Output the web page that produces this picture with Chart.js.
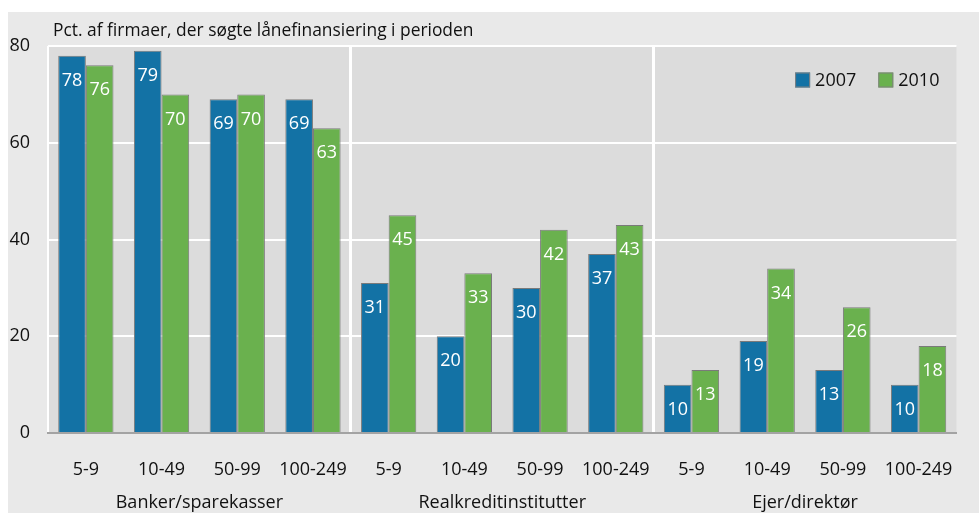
<!DOCTYPE html>
<html>
<head>
<meta charset="utf-8">
<script src="https://cdn.jsdelivr.net/npm/chart.js@4/dist/chart.umd.min.js"></script>
<style>
  html, body { margin: 0; padding: 0; background: #ffffff; }
  #wrap { width: 979px; height: 513px; }
</style>
</head>
<body>
<div id="wrap"><canvas id="c" width="979" height="513"></canvas></div>
<script>
// Firm size classes (employees), repeated for each lender group
const sizeClasses = ['5-9', '10-49', '50-99', '100-249',
                     '5-9', '10-49', '50-99', '100-249',
                     '5-9', '10-49', '50-99', '100-249'];
const lenderGroups = ['Banker/sparekasser', 'Realkreditinstitutter', 'Ejer/direktør'];
const seriesNames = ['2007', '2010'];
const share2007 = [78, 79, 69, 69, 31, 20, 30, 37, 10, 19, 13, 10];
const share2010 = [76, 70, 70, 63, 45, 33, 42, 43, 13, 34, 26, 18];
const yTicks = [0, 20, 40, 60, 80];
const titleText = 'Pct. af firmaer, der søgte lånefinansiering i perioden';

const FONT = '"Open Sans", "DejaVu Sans", sans-serif';
const BLUE = '#1372a5';
const GREEN = '#6ab14e';

// Panel backgrounds: light frame and darker plot area
const backgroundPlugin = {
  id: 'panels',
  beforeDraw(chart) {
    const { ctx, chartArea: a } = chart;
    ctx.save();
    ctx.fillStyle = '#ffffff';
    ctx.fillRect(0, 0, chart.width, chart.height);
    ctx.fillStyle = '#e9e9e9';
    ctx.fillRect(8, 12, chart.width - 8, chart.height - 12);
    ctx.fillStyle = '#dcdcdc';
    ctx.fillRect(a.left, a.top, a.right - a.left, a.bottom - a.top);
    ctx.restore();
  }
};

// Value labels inside the top of each bar
const valueLabelPlugin = {
  id: 'valueLabels',
  afterDatasetsDraw(chart) {
    const { ctx } = chart;
    ctx.save();
    ctx.font = '18px ' + FONT;
    ctx.fillStyle = '#ffffff';
    ctx.textAlign = 'center';
    ctx.textBaseline = 'middle';
    chart.data.datasets.forEach((ds, di) => {
      const meta = chart.getDatasetMeta(di);
      meta.data.forEach((bar, i) => {
        ctx.fillText(String(ds.data[i]), bar.x, bar.y + 25);
      });
    });
    ctx.restore();
  }
};

// Title, group captions and legend
const annotationPlugin = {
  id: 'annotations',
  afterDraw(chart) {
    const { ctx, chartArea: a } = chart;
    const x = chart.scales.x;
    ctx.save();
    ctx.fillStyle = '#111111';
    ctx.textBaseline = 'middle';

    ctx.font = '17.4px ' + FONT;
    ctx.textAlign = 'left';
    ctx.fillText(titleText, 53, 31);

    ctx.font = '18px ' + FONT;
    ctx.textAlign = 'center';
    lenderGroups.forEach((g, gi) => {
      const cx = (x.getPixelForTick(gi * 4 + 1) + x.getPixelForTick(gi * 4 + 2)) / 2;
      ctx.fillText(g, cx, 503);
    });

    // legend, right-aligned inside the plot area
    const box = 15, gap = 5, spacing = 22;
    const items = chart.data.datasets.map(ds => ({
      label: ds.label, color: ds.backgroundColor,
      w: box + gap + ctx.measureText(ds.label).width
    }));
    const total = items.reduce((s, it) => s + it.w, 0) + spacing * (items.length - 1);
    let lx = a.right - 17 - total;
    const ly = 80;
    ctx.textAlign = 'left';
    items.forEach(it => {
      ctx.fillStyle = it.color;
      ctx.fillRect(lx, ly - 7.5, box, box);
      ctx.strokeStyle = '#808080';
      ctx.lineWidth = 1;
      ctx.strokeRect(lx + 0.5, ly - 7, box - 1, box - 1);
      ctx.fillStyle = '#111111';
      ctx.fillText(it.label, lx + box + gap, ly + 1);
      lx += it.w + spacing;
    });
    ctx.restore();
  }
};

new Chart(document.getElementById('c'), {
  type: 'bar',
  data: {
    labels: sizeClasses,
    datasets: [
      { label: seriesNames[0], data: share2007, backgroundColor: BLUE,
        borderColor: '#7a7a7a', borderWidth: 1, borderSkipped: 'bottom' },
      { label: seriesNames[1], data: share2010, backgroundColor: GREEN,
        borderColor: '#7a7a7a', borderWidth: 1, borderSkipped: 'bottom' }
    ]
  },
  options: {
    responsive: false,
    animation: false,
    devicePixelRatio: 1,
    layout: { padding: { left: 0, right: 15, top: 46, bottom: 0 } },
    datasets: { bar: { categoryPercentage: 0.73, barPercentage: 1.0 } },
    plugins: { legend: { display: false }, tooltip: { enabled: false }, title: { display: false } },
    scales: {
      x: {
        afterFit(s) { s.height = 80; },
        grid: {
          offset: true,
          drawTicks: false,
          color: ctx => (ctx.index % 4 === 0 ? '#ffffff' : 'rgba(0,0,0,0)'),
          lineWidth: ctx => (ctx.index === 0 || ctx.index === 12 ? 2 : 3)
        },
        border: { display: true, color: '#a3a3a3', width: 2 },
        ticks: { font: { family: FONT, size: 18 }, color: '#111111', padding: 26, maxRotation: 0, autoSkip: false }
      },
      y: {
        min: yTicks[0],
        max: yTicks[yTicks.length - 1],
        afterFit(s) { s.width = 48; },
        afterBuildTicks(s) { s.ticks = yTicks.map(v => ({ value: v })); },
        grid: {
          drawTicks: false,
          color: ctx => (ctx.tick && ctx.tick.value === 0 ? 'rgba(0,0,0,0)' : '#ffffff'),
          lineWidth: 2
        },
        border: { display: false },
        ticks: { font: { family: FONT, size: 18 }, color: '#111111', padding: 18 }
      }
    }
  },
  plugins: [backgroundPlugin, valueLabelPlugin, annotationPlugin]
});
</script>
</body>
</html>
